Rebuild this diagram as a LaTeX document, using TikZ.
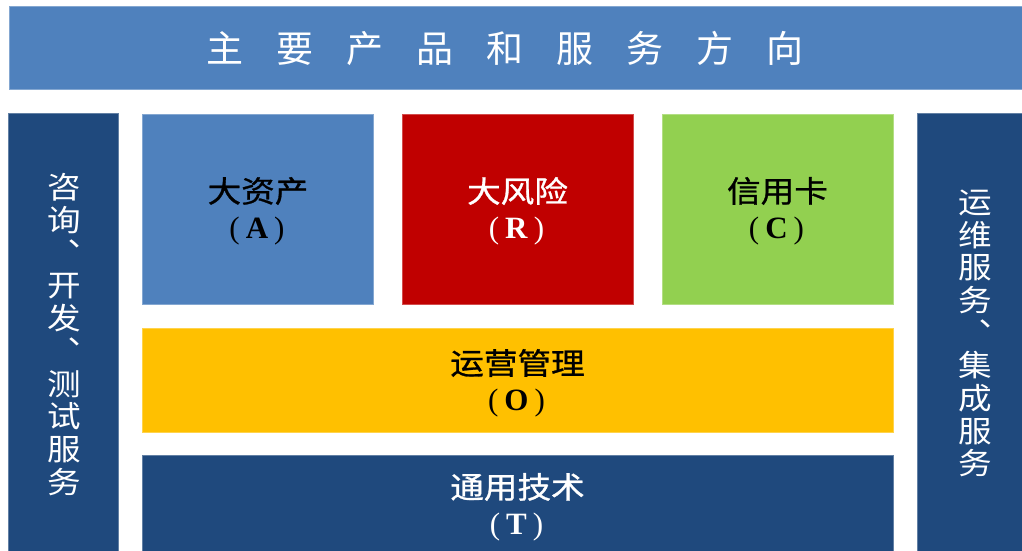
\documentclass[tikz,border=0pt]{standalone}
\usepackage{fontspec}
\usepackage{graphicx}
\setmainfont{Liberation Serif}
\newfontfamily\cjk{Noto Sans CJK SC}
\newfontfamily\cjkm{Noto Sans CJK SC}[FakeBold=0.9]
\definecolor{topblue}{HTML}{4F81BD}
\definecolor{navy}{HTML}{1F497D}
\definecolor{boxred}{HTML}{C00000}
\definecolor{boxgreen}{HTML}{92D050}
\definecolor{boxyellow}{HTML}{FFC000}
\tikzset{
  panel/.style={draw=#1!70!white, line width=0.6pt, fill=#1},
  label/.style={inner sep=0pt, font=\cjkm\fontsize{30}{30}\selectfont},
  plabel/.style={inner sep=0pt, font=\rmfamily\fontsize{31}{31}\selectfont},
  vtext/.style={inner sep=0pt, align=center, text=white,
    font=\cjk\fontsize{30}{32.7}\selectfont},
}
\newcommand{\wide}[1]{\scalebox{1.12}[1]{#1}}
\newcommand{\paren}[1]{(\hspace{6pt}\textbf{#1}\hspace{6pt})}
\newcommand{\dun}{\wide{︑}}
\begin{document}
\begin{tikzpicture}[x=1pt,y=-1pt]
\useasboundingbox (0,0) rectangle (1022,551);
\fill[white] (0,0) rectangle (1022,551);
% panels
\path[panel=topblue] (9,6) rectangle (1024,89);
\path[panel=navy] (8,113) rectangle (118,553);
\path[panel=navy] (917,113) rectangle (1024,553);
\path[panel=topblue] (142,114) rectangle (373,304);
\path[panel=boxred] (402,114) rectangle (633,304);
\path[panel=boxgreen] (662,114) rectangle (893,304);
\path[panel=boxyellow] (142,328) rectangle (893,432);
\path[panel=navy] (142,455) rectangle (893,553);
% title
\node[inner sep=0pt, text=white, font=\cjk\fontsize{37}{37}\selectfont] (title) at (505,48)
  {主\hspace{33pt}要\hspace{33pt}产\hspace{33pt}品\hspace{33pt}和\hspace{33pt}服\hspace{33pt}务\hspace{33pt}方\hspace{33pt}向};
% boxes
\node[label] (a1) at (258,191) {\wide{大资产}};
\node[plabel] (a2) at (257,231) {\paren{A}};
\node[label, text=white] (r1) at (517.5,191) {\wide{大风险}};
\node[plabel, text=white] (r2) at (516.5,231) {\paren{R}};
\node[label] (c1) at (777.5,191) {\wide{信用卡}};
\node[plabel] (c2) at (776.5,231) {\paren{C}};
\node[label] (o1) at (517.5,363) {\wide{运营管理}};
\node[plabel] (o2) at (516.5,403) {\paren{O}};
\node[label, text=white] (t1) at (517.5,487) {\wide{通用技术}};
\node[plabel, text=white] (t2) at (516.5,527) {\paren{T}};
% side texts
\node[vtext] (left) at (64,334.5) {\wide{咨}\\\wide{询}\\\dun\\\wide{开}\\\wide{发}\\\dun\\\wide{测}\\\wide{试}\\\wide{服}\\\wide{务}};
\node[vtext] (right) at (975,333.5) {\wide{运}\\\wide{维}\\\wide{服}\\\wide{务}\\\dun\\\wide{集}\\\wide{成}\\\wide{服}\\\wide{务}};
\end{tikzpicture}
\end{document}
